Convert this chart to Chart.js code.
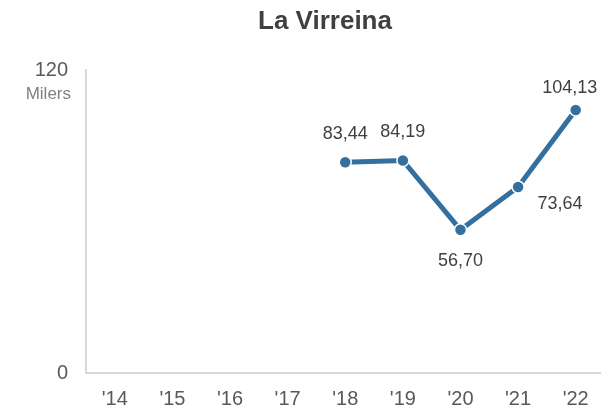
<!DOCTYPE html>
<html>
<head>
<meta charset="utf-8">
<script src="https://cdn.jsdelivr.net/npm/chart.js@4"></script>
<style>
  html, body { margin: 0; padding: 0; background: #fff; overflow: hidden; }
  #wrap { position: relative; width: 612px; height: 411px; }
</style>
</head>
<body>
<div id="wrap"><canvas id="lineChart"></canvas></div>
<script>
// data
const years = ["'14", "'15", "'16", "'17", "'18", "'19", "'20", "'21", "'22"];
const visitors = [null, null, null, null, 83.44, 84.19, 56.70, 73.64, 104.13];
const yTicks = [0, 120];
const chartTitle = 'La Virreina';
const unitLabel = 'Milers';

// label offsets from each point (px)
const labelOffsets = [null, null, null, null, [0, -28], [0, -28], [0, 31], [42, 17], [-6, -22]];

const fmt = v => v.toFixed(2).replace('.', ',');

const textPlugin = {
    id: 'texts',
    afterDraw(chart) {
        const ctx = chart.ctx;
        const xs = chart.scales.x, ys = chart.scales.y;
        ctx.save();
        // title
        ctx.fillStyle = '#404040';
        ctx.font = 'bold 26px "Liberation Sans", Arial, sans-serif';
        ctx.textAlign = 'center';
        ctx.textBaseline = 'middle';
        ctx.fillText(chartTitle, 325, 22);

        // y ticks
        ctx.fillStyle = '#595959';
        ctx.font = '20px "Liberation Sans", Arial, sans-serif';
        ctx.textAlign = 'right';
        yTicks.forEach(t => ctx.fillText(String(t), 68, ys.getPixelForValue(t)));
        ctx.fillStyle = '#808080';
        ctx.font = '17px "Liberation Sans", Arial, sans-serif';
        ctx.fillText(unitLabel, 71, ys.getPixelForValue(yTicks[1]) + 24);

        // x ticks
        ctx.fillStyle = '#595959';
        ctx.font = '20px "Liberation Sans", Arial, sans-serif';
        ctx.textAlign = 'center';
        years.forEach((y, i) => ctx.fillText(y, xs.getPixelForValue(i), 399));

        // data labels
        ctx.fillStyle = '#404040';
        ctx.font = '18px "Liberation Sans", Arial, sans-serif';
        visitors.forEach((v, i) => {
            if (v == null) return;
            const off = labelOffsets[i];
            ctx.fillText(fmt(v), xs.getPixelForValue(i) + off[0], ys.getPixelForValue(v) + off[1]);
        });
        ctx.restore();
    }
};

const ctx = document.getElementById('lineChart').getContext('2d');
const lineChart = new Chart(ctx, {
    type: 'line',
    data: {
        labels: years,
        datasets: [{
            data: visitors,
            borderColor: '#34709f',
            borderWidth: 5,
            pointBackgroundColor: '#34709f',
            pointBorderColor: '#ffffff',
            pointBorderWidth: 1.5,
            pointRadius: 6,
            tension: 0
        }]
    },
    options: {
        responsive: true,
        maintainAspectRatio: false,
        animation: false,
        layout: { padding: { left: 86, right: 1, top: 70, bottom: 38 } },
        plugins: { legend: { display: false }, tooltip: { enabled: false } },
        scales: {
            x: {
                offset: true,
                grid: { display: false, drawTicks: false },
                border: { display: true, color: '#d9d9d9', width: 2 },
                ticks: { display: false }
            },
            y: {
                min: 0,
                max: 120,
                grid: { display: false, drawTicks: false },
                border: { display: true, color: '#d9d9d9', width: 2 },
                ticks: { display: false }
            }
        }
    },
    plugins: [textPlugin]
});
</script>
</body>
</html>
